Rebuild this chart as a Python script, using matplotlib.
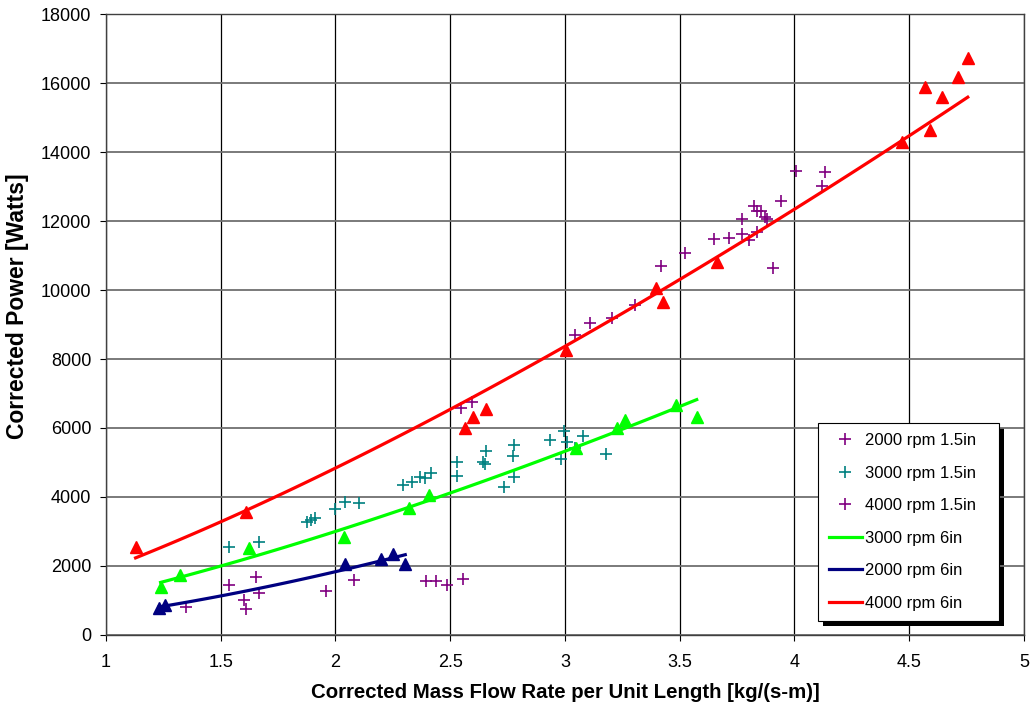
import numpy as np
import matplotlib
matplotlib.use("Agg")
from matplotlib import pyplot as plt
from matplotlib.patches import Rectangle

plt.rcParams['font.family'] = ['Liberation Sans', 'DejaVu Sans']

# 2000 rpm, 1.5in (crosses)
x_2000_15 = [1.347, 1.537, 1.652, 1.668, 1.603, 1.609, 1.957, 2.081, 2.393, 2.438, 2.484, 2.554]
y_2000_15 = [803, 1450, 1672, 1209, 1015, 745, 1285, 1595, 1575, 1575, 1450, 1624]

# 3000 rpm, 1.5in (crosses)
x_3000_15 = [1.536, 1.668, 1.874, 1.892, 1.912, 2.000, 2.041, 2.104, 2.296, 2.332, 2.368, 2.390,
             2.415, 2.528, 2.528, 2.644, 2.656, 2.651, 2.736, 2.772, 2.779, 2.779, 2.935, 2.997,
             3.007, 2.981, 3.044, 3.077, 3.177]
y_3000_15 = [2561, 2706, 3286, 3335, 3383, 3644, 3866, 3837, 4349, 4445, 4591, 4543,
             4706, 5025, 4619, 5006, 5344, 4959, 4281, 5190, 5509, 4591, 5655, 5916,
             5606, 5104, 5413, 5770, 5249]

# 4000 rpm, 1.5in (crosses)
x_4000_15 = [2.547, 2.593, 3.042, 3.109, 3.206, 3.305, 3.418, 3.524, 3.649, 3.715, 3.773, 3.773,
             3.802, 3.835, 3.825, 3.835, 3.853, 3.871, 3.879, 3.905, 3.941, 4.008, 4.133, 4.121]
y_4000_15 = [6592, 6748, 8697, 9057, 9202, 9561, 10700, 11066, 11484, 11500, 12052, 11626,
             11450, 11692, 12447, 12302, 12283, 12108, 12052, 10632, 12591, 13463, 13414, 13027]

# 6in runs (triangles + power trend lines)
x_3000_6 = [1.238, 1.322, 1.625, 2.037, 2.320, 2.409, 3.047, 3.225, 3.261, 3.484, 3.574]
y_3000_6 = [1382, 1739, 2513, 2850, 3673, 4058, 5430, 5992, 6233, 6668, 6329]

x_2000_6 = [1.232, 1.257, 2.041, 2.198, 2.252, 2.304]
y_2000_6 = [773, 870, 2049, 2194, 2348, 2049]

x_4000_6 = [1.129, 1.609, 2.564, 2.601, 2.656, 3.003, 3.397, 3.426, 3.661, 4.467, 4.590,
            4.569, 4.644, 4.711, 4.755]
y_4000_6 = [2561, 3576, 5992, 6330, 6552, 8262, 10050, 9663, 10822, 14300, 14640,
            15877, 15606, 16167, 16718]

fig = plt.figure(figsize=(10.34, 7.09), dpi=100)
ax = fig.add_axes([0.1025, 0.1044, 0.8878, 0.8758])

ax.plot(x_2000_15, y_2000_15, '+', color='#800080', ms=9, mew=1.2, label='2000 rpm 1.5in', zorder=4)
ax.plot(x_3000_15, y_3000_15, '+', color='#008080', ms=9, mew=1.2, label='3000 rpm 1.5in', zorder=4)
ax.plot(x_4000_15, y_4000_15, '+', color='#800080', ms=9, mew=1.2, label='4000 rpm 1.5in', zorder=4)


def trend(xs, ys, color, label):
    ax.plot(xs, ys, '^', color=color, ms=8, zorder=5)
    # power trendline y = a * x^b, fitted in log space
    b, lna = np.polyfit(np.log(xs), np.log(ys), 1)
    xx = np.linspace(min(xs), max(xs), 100)
    ax.plot(xx, np.exp(lna) * xx ** b, '-', color=color, lw=2.3, label=label, zorder=6)


trend(x_3000_6, y_3000_6, '#00FF00', '3000 rpm 6in')
trend(x_2000_6, y_2000_6, '#000080', '2000 rpm 6in')
trend(x_4000_6, y_4000_6, '#FF0000', '4000 rpm 6in')

ax.set_xlim(1, 5)
ax.set_ylim(0, 18000)
ax.set_xticks(np.arange(1, 5.01, 0.5))
ax.set_xticklabels(['1', '1.5', '2', '2.5', '3', '3.5', '4', '4.5', '5'])
ax.set_yticks(np.arange(0, 18001, 2000))
ax.xaxis.grid(True, color='black', lw=0.9)
ax.yaxis.grid(True, color='#707070', lw=1.3)
ax.set_axisbelow(True)
ax.tick_params(axis='both', direction='out', length=4.5, labelsize=13)
ax.tick_params(axis='x', pad=9)
ax.tick_params(axis='y', pad=6)
for s in ax.spines.values():
    s.set_color('#404040')
    s.set_linewidth(1.0)

ax.set_xlabel('Corrected Mass Flow Rate per Unit Length [kg/(s-m)]', fontsize=14.7, fontweight='bold', labelpad=9)
ax.set_ylabel('Corrected Power [Watts]', fontsize=16.5, fontweight='bold')
ax.yaxis.set_label_coords(-0.084, 0.53)

leg = ax.legend(loc='lower left', bbox_to_anchor=(0.776, 0.0225, 0.197, 0.01), mode='expand',
                fontsize=12, fancybox=False,
                framealpha=1, edgecolor='black', labelspacing=1.05, handlelength=2.0,
                handletextpad=0.15, borderpad=0.62, borderaxespad=0)
leg.get_frame().set_linewidth(0.8)
leg.set_zorder(10)

# Excel-style solid drop shadow behind the legend box
fig.canvas.draw()
bb = leg.get_frame().get_window_extent().transformed(fig.transFigure.inverted())
dx, dy = 5 / 1034, 5 / 709
fig.patches.append(Rectangle((bb.x0 + dx, bb.y0 - dy), bb.width, bb.height,
                             transform=fig.transFigure, facecolor='black', edgecolor='none',
                             zorder=0))
ax.set_zorder(1)
ax.patch.set_alpha(0)

fig.savefig('out.png')
